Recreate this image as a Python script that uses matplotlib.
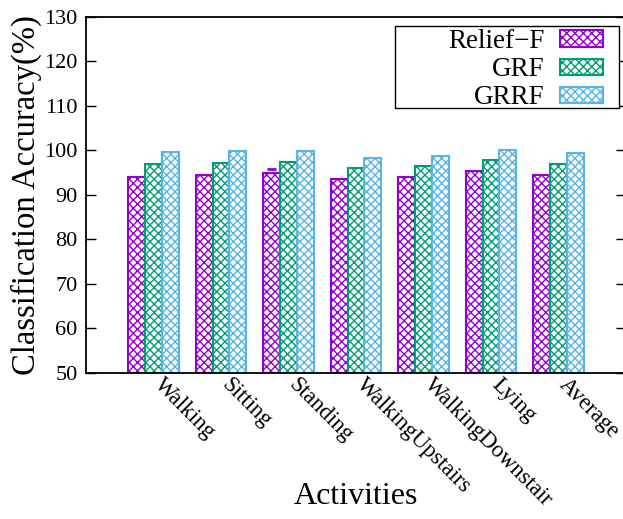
import matplotlib
matplotlib.use("Agg")
import matplotlib.pyplot as plt
from matplotlib.patches import Rectangle
import numpy as np

activities = ["Walking", "Sitting", "Standing", "WalkingUpstairs",
              "WalkingDownstair", "Lying", "Average"]
series_names = ["Relief\u2212F", "GRF", "GRRF"]
relief_f = [94.1, 94.4, 94.8, 93.5, 93.9, 95.3, 94.4]
grf = [96.9, 97.1, 97.3, 96.1, 96.5, 97.8, 96.9]
grrf = [99.6, 99.9, 99.8, 98.2, 98.7, 100.0, 99.4]
# single stray error cap seen above the Relief-F "Standing" bar
standing_cap = 95.7
yticks = [50, 60, 70, 80, 90, 100, 110, 120, 130]

colors = ["#9400D3", "#009E73", "#56B4E9"]

plt.rcParams["font.family"] = ["Liberation Serif", "DejaVu Serif"]
plt.rcParams["hatch.linewidth"] = 1.0

W, H = 623, 519
fig = plt.figure(figsize=(W / 100, H / 100), dpi=100)
ax_bottom = 372.5
ax_top = 17
ax = fig.add_axes([86 / W, 1 - ax_bottom / H, 540 / W, (ax_bottom - ax_top) / H])

x = np.arange(len(activities))
w = 0.25
for i, (vals, name, c) in enumerate(zip([relief_f, grf, grrf], series_names, colors)):
    ax.bar(x + (i - 1) * w, np.array(vals) - 50, width=w, bottom=50,
           facecolor="white", edgecolor=c, hatch="xxxx", linewidth=1.5,
           label=name, zorder=2)

# standing cap
si = activities.index("Standing")
ax.errorbar([x[si] - w], [standing_cap], xerr=[[0.07], [0.07]], fmt="none",
            ecolor=colors[0], elinewidth=2.0, zorder=3)

ax.set_xlim(-1, 7)
ax.set_ylim(50, 130)
ax.set_yticks(yticks)
ax.set_xticks(x)
ax.set_xticklabels(activities, rotation=-45, ha="left", va="baseline",
                   rotation_mode="anchor", fontsize=16.5)
ax.tick_params(axis="x", length=0, pad=9)
ax.tick_params(axis="y", direction="in", right=True, length=7, width=1,
               labelsize=16, pad=6)
for s in ax.spines.values():
    s.set_linewidth(1.3)

ax.set_ylabel("Classification Accuracy(%)", fontsize=23.5, labelpad=2)
ax.set_xlabel("Activities", fontsize=23)
ax.xaxis.set_label_coords(0.5, (ax_bottom - 497) / (ax_bottom - ax_top))
ax.xaxis.label.set_va("center")

# legend frame (gnuplot-style wide box)
frame = Rectangle((395 / W, 1 - 108 / H), (619 - 395) / W, (108 - 26) / H,
                  transform=fig.transFigure, facecolor="white",
                  edgecolor="black", linewidth=1.0, zorder=4)
fig.add_artist(frame)

leg = ax.legend(loc="upper right", bbox_to_anchor=(603 / W, 1 - 29 / H),
                bbox_transform=fig.transFigure, markerfirst=False,
                fontsize=19.5, frameon=False,
                handlelength=1.6, handleheight=0.55,
                labelspacing=0.12, borderpad=0.0, handletextpad=0.55,
                borderaxespad=0)
leg.set_zorder(5)
fig.add_artist(leg)

fig.savefig("out.png", dpi=100)
